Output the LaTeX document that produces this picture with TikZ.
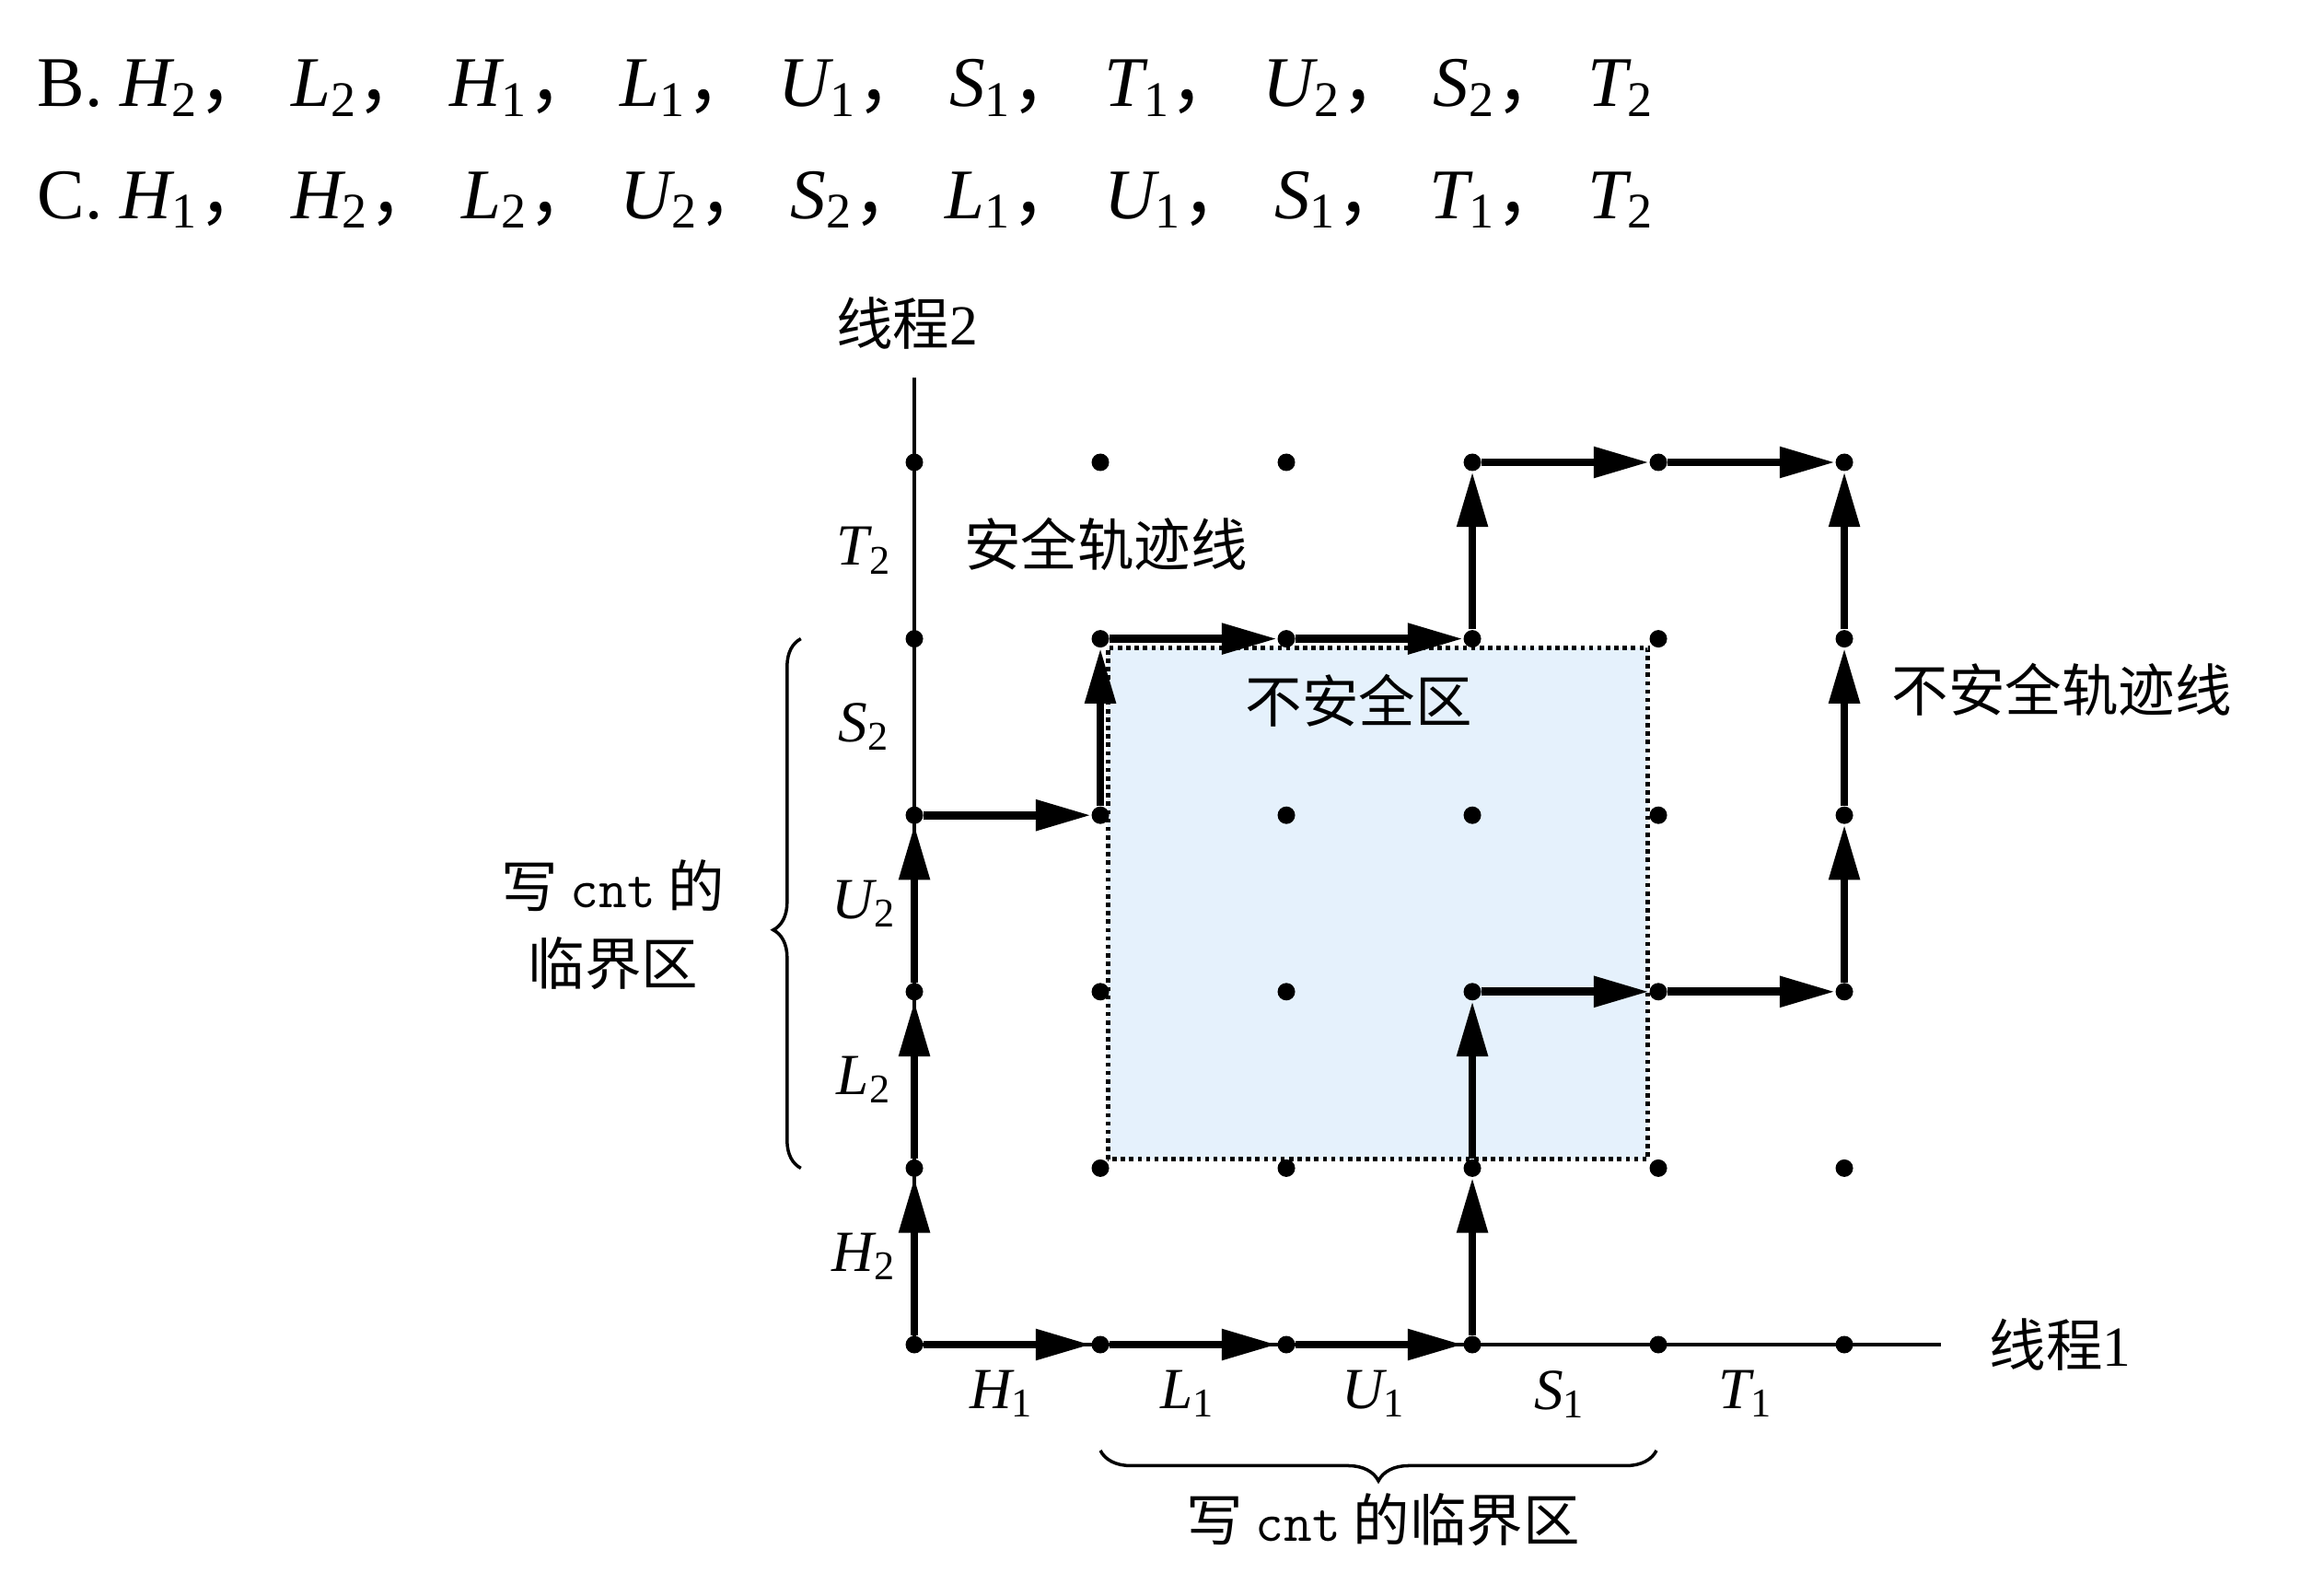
\documentclass[tikz,border=0pt]{standalone}
\usepackage{fontspec}
\setmainfont{Liberation Serif}
\newfontfamily\cjk{Noto Sans CJK SC}
\usetikzlibrary{arrows.meta, decorations.pathreplacing}
\definecolor{unsafeblue}{RGB}{229, 241, 252}
\newcommand{\ev}[2]{{\itshape #1}\textsubscript{#2}}
\newcommand{\zcomma}{{\cjk ，}\hspace{0.3em}}
\newcommand{\cnt}{{\ttfamily\fontsize{17}{20}\selectfont cnt}}
\tikzset{
  pt/.style={circle, fill=black, inner sep=0pt, minimum size=1.9mm},
  traj/.style={-{Triangle[length=6mm, width=3.2mm]}, line width=2.5pt},
  axis/.style={line width=0.9pt},
  lbl/.style={font=\fontsize{18}{22}\selectfont},
  zh/.style={font=\cjk\fontsize{17.5}{24}\selectfont, align=center},
  opt/.style={font=\fontsize{22}{26}\selectfont, anchor=base west, inner sep=0pt},
  region/.style={fill=unsafeblue, draw=black, line width=1.4pt, dash pattern=on 1.3pt off 1.3pt}
}

\begin{document}
\begin{tikzpicture}[x=2.02cm, y=1.916cm]
\useasboundingbox (-4.916,-1.294) rectangle (7.579,7.62);

\node[opt] (optB) at (-4.718,7.015) {B. \ev{H}{2}\zcomma \ev{L}{2}\zcomma \ev{H}{1}\zcomma \ev{L}{1}\zcomma \ev{U}{1}\zcomma \ev{S}{1}\zcomma \ev{T}{1}\zcomma \ev{U}{2}\zcomma \ev{S}{2}\zcomma \ev{T}{2}};
\node[opt] (optC) at (-4.718,6.383) {C. \ev{H}{1}\zcomma \ev{H}{2}\zcomma \ev{L}{2}\zcomma \ev{U}{2}\zcomma \ev{S}{2}\zcomma \ev{L}{1}\zcomma \ev{U}{1}\zcomma \ev{S}{1}\zcomma \ev{T}{1}\zcomma \ev{T}{2}};

% unsafe region
\draw[region] (1.04,1.05) rectangle (3.945,3.95);

\foreach \i in {0,...,5}
  \foreach \j in {0,...,5}
    \node[pt] (p\i\j) at (\i,\j) {};

\coordinate (ytop) at (0,5.48);
\coordinate (xend) at (5.52,0);
\draw[axis] (p00.center) -- (ytop);
\draw[axis] (p00.center) -- (xend);

% safe trajectory
\foreach \a/\b in {p00/p01, p01/p02, p02/p03, p03/p13, p13/p14, p14/p24, p24/p34, p34/p35, p35/p45, p45/p55}
  \draw[traj] (\a) -- (\b);
% unsafe trajectory
\foreach \a/\b in {p00/p10, p10/p20, p20/p30, p30/p31, p31/p32, p32/p42, p42/p52, p52/p53, p53/p54, p54/p55}
  \draw[traj] (\a) -- (\b);

\foreach \t/\j in {H/0, L/1, U/2, S/3, T/4} {
  \node[lbl] (y\t) at (-0.27,\j+0.5) {\ev{\t}{2}};
  \node[lbl] (x\t) at (\j+0.47,-0.28) {\ev{\t}{1}};
}

\coordinate (lb1) at (-0.61,1);
\coordinate (lb2) at (-0.61,4);
\draw[decorate, decoration={brace, amplitude=3mm, aspect=0.45}, line width=1pt] (lb1) -- (lb2);
\coordinate (bb1) at (3.99,-0.6);
\coordinate (bb2) at (1,-0.6);
\draw[decorate, decoration={brace, amplitude=3.3mm}, line width=1pt] (bb1) -- (bb2);

\node[zh] (crit2) at (-1.62,2.38) {写 \cnt{} 的\\临界区};
\node[zh] (crit1) at (2.52,-0.99) {写 \cnt{} 的临界区};
\node[zh] (thr2) at (-0.04,5.79) {线程\rmfamily 2};
\node[zh, anchor=west] (thr1) at (5.72,0) {线程\rmfamily 1};
\node[zh] (safe) at (1.03,4.535) {安全轨迹线};
\node[zh] (unsafe) at (2.39,3.65) {不安全区};
\node[zh] (unsafetraj) at (6.17,3.71) {不安全轨迹线};
\end{tikzpicture}
\end{document}
